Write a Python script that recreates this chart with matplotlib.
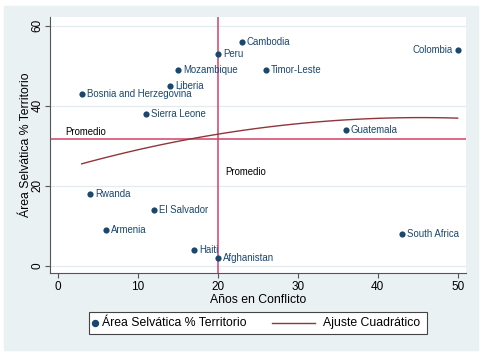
import matplotlib
matplotlib.use("Agg")
import matplotlib.pyplot as plt
import numpy as np
from matplotlib.patches import Rectangle
from matplotlib.lines import Line2D

plt.rcParams['font.family'] = ['Liberation Sans', 'DejaVu Sans']

# Data
paises = ['Cambodia', 'Peru', 'Mozambique', 'Timor-Leste', 'Liberia',
          'Bosnia and Herzegovina', 'Sierra Leone', 'Colombia', 'Guatemala',
          'Rwanda', 'El Salvador', 'Armenia', 'Haiti', 'Afghanistan',
          'South Africa']
anos_conflicto = [23, 20, 15, 26, 14, 3, 11, 50, 36, 4, 12, 6, 17, 20, 43]
area_selvatica = [56, 53, 49, 49, 45, 43, 38, 54, 34, 18, 14, 9, 4, 2, 8]
x_ticks = [0, 10, 20, 30, 40, 50]
y_ticks = [0, 20, 40, 60]

navy = '#1a476f'
rojo = '#d2436a'
granate = '#90353b'
fondo = '#eaf1f3'

x = np.array(anos_conflicto, dtype=float)
y = np.array(area_selvatica, dtype=float)

fig = plt.figure(figsize=(4.82, 3.53), dpi=100)
fig.patch.set_facecolor('white')
fig.add_artist(Rectangle((4/482, 3/353), 474/482, 344/353,
                         transform=fig.transFigure, color=fondo, zorder=0))

ax = fig.add_axes([50/482, 80/353, 416/482, 256/353])
ax.set_facecolor('white')

# grid
for yt in y_ticks:
    ax.axhline(yt, color='#e3ebee', lw=0.9, zorder=1)

# mean lines
xm = x.mean()
ym = y.mean()
ax.axhline(ym, color=rojo, lw=1.1, zorder=2)
ax.axvline(xm, color=rojo, lw=1.1, zorder=2)
ax.text(1, ym + 0.9, 'Promedio', fontsize=6.9, va='baseline', ha='left')
ax.text(xm + 0.9, 23.4, 'Promedio', fontsize=6.9, va='center', ha='left')

# quadratic fit
coef = np.polyfit(x, y, 2)
xf = np.linspace(x.min(), x.max(), 100)
ax.plot(xf, np.polyval(coef, xf), color=granate, lw=1.0, zorder=3)

# points + labels
ax.scatter(x, y, s=20, color=navy, zorder=4, linewidths=0)
for nombre, xi, yi in zip(paises, x, y):
    if nombre == 'Colombia':
        ax.annotate(nombre, (xi, yi), xytext=(-3.8, 0), textcoords='offset points',
                    ha='right', va='center', fontsize=6.9, color=navy)
    else:
        ax.annotate(nombre, (xi, yi), xytext=(3.8, 0), textcoords='offset points',
                    ha='left', va='center', fontsize=6.9, color=navy)

ax.set_xlim(-0.96, 51.04)
ax.set_ylim(-1.83, 62.2)
ax.set_xticks(x_ticks)
ax.set_yticks(y_ticks)
ax.tick_params(direction='out', length=3.5, width=0.8, color='#555555',
               labelsize=8.5, pad=2)
ax.tick_params(axis='y', pad=1)
for lab in ax.get_yticklabels():
    lab.set_rotation(90)
    lab.set_va('center')
for s in ['top', 'right']:
    ax.spines[s].set_visible(False)
for s in ['left', 'bottom']:
    ax.spines[s].set_color('#555555')
    ax.spines[s].set_linewidth(0.8)

ax.set_xlabel('Años en Conflicto', fontsize=8.8, labelpad=1)
ax.set_ylabel('Área Selvática % Territorio', fontsize=8.8, labelpad=0)

# legend box drawn by hand (Stata style keys)
fig.add_artist(Rectangle((89/482, (353-334)/353), 338/482, 22/353,
                         transform=fig.transFigure, facecolor='white',
                         edgecolor='#444444', lw=0.8, zorder=5))
ly = (353-323)/353
fig.add_artist(Line2D([95/482], [ly], marker='o', markersize=4.3, color=navy,
                      linestyle='none', transform=fig.transFigure, zorder=6))
fig.text(102.5/482, ly, 'Área Selvática % Territorio', fontsize=8.8,
         va='center', ha='left', zorder=6)
fig.add_artist(Line2D([272/482, 315/482], [ly, ly], color=granate, lw=1.0,
                      transform=fig.transFigure, zorder=6))
fig.text(323/482, ly, 'Ajuste Cuadrático', fontsize=8.8,
         va='center', ha='left', zorder=6)

fig.savefig('out.png', dpi=100)
